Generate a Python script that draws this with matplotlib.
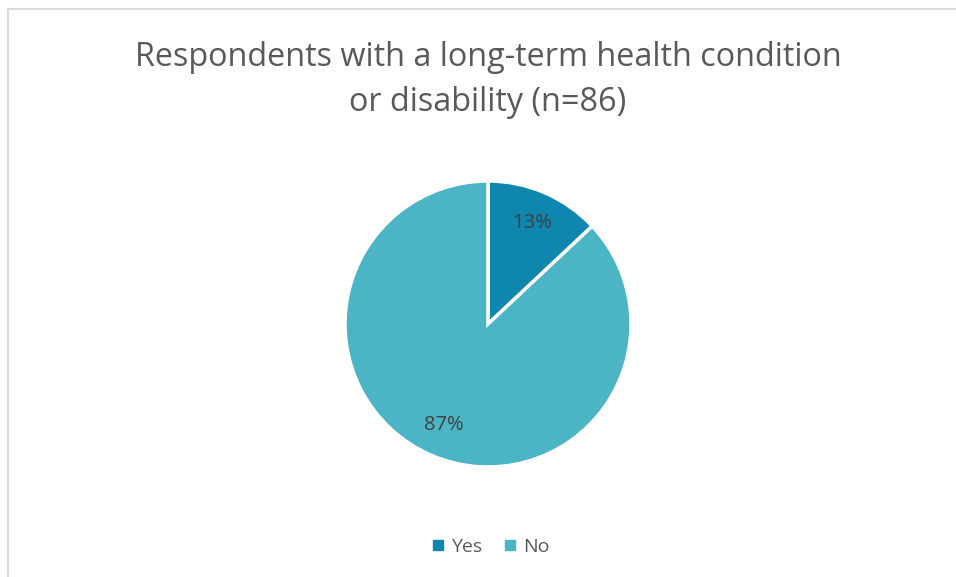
import matplotlib
matplotlib.use("Agg")
import matplotlib.pyplot as plt
from matplotlib.lines import Line2D

plt.rcParams['font.family'] = ['Open Sans', 'DejaVu Sans']

labels = ['Yes', 'No']
shares = [13, 87]
colours = ['#0E86AE', '#4BB5C5']
title = 'Respondents with a long-term health condition\nor disability (n=86)'

W, H = 956, 577
fig = plt.figure(figsize=(W / 100, H / 100), dpi=100)

# frame lines along the top and left edges
fig.add_artist(Line2D([8 / W, 1], [1 - 9 / H, 1 - 9 / H], color='#D9D9D9', lw=1.5))
fig.add_artist(Line2D([8 / W, 8 / W], [0, 1 - 9 / H], color='#D9D9D9', lw=1.5))

cx, cy, r = 488, 324, 143
ax = fig.add_axes([(cx - r) / W, (H - cy - r) / H, 2 * r / W, 2 * r / H])
wedges, texts, autotexts = ax.pie(
    shares, colors=colours, startangle=90, counterclock=False,
    autopct='%.0f%%', pctdistance=0.77,
    wedgeprops=dict(edgecolor='white', linewidth=2.5),
    textprops=dict(color='#404040', fontsize=14.5))
ax.set_xlim(-1, 1)
ax.set_ylim(-1, 1)
ax.set_aspect('equal')
ax.axis('off')

fig.text(cx / W, 1 - 80 / H, title, ha='center', va='center',
         fontsize=23.3, color='#595959', linespacing=1.5)

handles = [Line2D([], [], marker='s', linestyle='', markersize=6.5,
                  markerfacecolor=c, markeredgecolor=c) for c in colours]
fig.legend(handles, labels, loc='center', bbox_to_anchor=(cx / W, 1 - 547 / H),
           ncol=2, frameon=False, fontsize=14, handletextpad=0.1,
           handlelength=1.2, columnspacing=0.8, labelcolor='#595959')

fig.savefig('out.png', dpi=100, facecolor='white')
